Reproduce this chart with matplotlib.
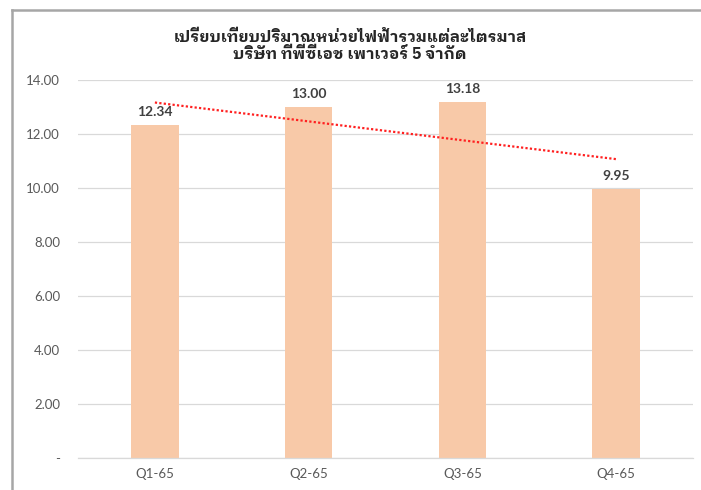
import numpy as np
import matplotlib
matplotlib.use('Agg')
import matplotlib.pyplot as plt
from matplotlib.lines import Line2D

# =============================================================================
# DATOS
# =============================================================================
trimestres = ['Q1-65', 'Q2-65', 'Q3-65', 'Q4-65']
unidades = [12.34, 13.00, 13.18, 9.95]
ticks_y = [0, 2, 4, 6, 8, 10, 12, 14]
etiquetas_y = ['-', '2.00', '4.00', '6.00', '8.00', '10.00', '12.00', '14.00']
titulo = 'เปรียบเทียบปริมาณหน่วยไฟฟ้ารวมแต่ละไตรมาส\nบริษัท ทีพีซีเอช เพาเวอร์ 5 จำกัด'

# =============================================================================
# FIGURA
# =============================================================================
plt.rcParams['font.family'] = ['Lato', 'DejaVu Sans']

fig = plt.figure(figsize=(7.01, 4.9), dpi=100)
ax = fig.add_axes([78 / 701, 1 - 458 / 490, (693 - 78) / 701, (458 - 80) / 490])

x = np.arange(len(trimestres))
barras = ax.bar(x, unidades, width=0.31, color='#F8C9A8', zorder=2)

# etiquetas de datos
for xi, v in zip(x, unidades):
    ax.annotate(f'{v:.2f}', (xi, v), xytext=(0, 5), textcoords='offset points',
                ha='center', va='bottom', fontsize=10, fontweight='bold',
                color='#404040')

# línea de tendencia lineal (como en Excel)
pend, inter = np.polyfit(x, unidades, 1)
ax.plot(x, pend * x + inter, color='#FF2020', linestyle=(0, (1, 1)),
        linewidth=1.6, zorder=3)

# ejes
ax.set_xlim(-0.5, len(trimestres) - 0.5)
ax.set_ylim(0, 14)
ax.set_yticks(ticks_y)
ax.set_yticklabels(etiquetas_y)
ax.set_xticks(x)
ax.set_xticklabels(trimestres)
ax.tick_params(axis='both', length=0, labelsize=9.5, labelcolor='#595959')
ax.tick_params(axis='y', pad=13)
ax.tick_params(axis='x', pad=7)
ax.yaxis.grid(True, color='#D9D9D9', linewidth=0.9, zorder=0)
ax.set_axisbelow(True)
for lado in ['top', 'right', 'left']:
    ax.spines[lado].set_visible(False)
ax.spines['bottom'].set_color('#D9D9D9')
ax.spines['bottom'].set_linewidth(0.9)

# título
fig.text(350 / 701, 1 - 46 / 490, titulo, ha='center', va='center',
         fontsize=11.5, fontweight='bold', color='#262626', linespacing=1.12,
         family=['IBM Plex Sans Thai Looped', 'Noto Sans Thai Looped', 'DejaVu Sans'])

# marco gris (bordes superior e izquierdo)
fig.add_artist(Line2D([12 / 701, 12 / 701], [0, 1 - 10 / 490],
                      transform=fig.transFigure, color='#A6A6A6', linewidth=1.8))
fig.add_artist(Line2D([12 / 701, 1], [1 - 10 / 490, 1 - 10 / 490],
                      transform=fig.transFigure, color='#A6A6A6', linewidth=1.8))

fig.savefig('out.png', dpi=100)
